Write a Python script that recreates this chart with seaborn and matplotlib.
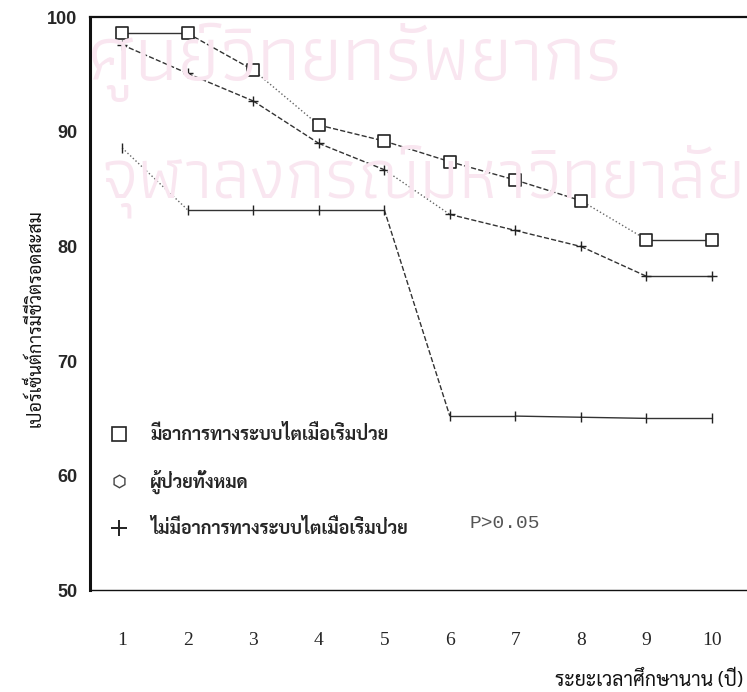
import matplotlib
matplotlib.use("Agg")
import matplotlib.pyplot as plt
import seaborn as sns
from matplotlib.lines import Line2D

# ==========================================
# Data
# ==========================================
years = [1, 2, 3, 4, 5, 6, 7, 8, 9, 10]

renal_yes = [98.6, 98.6, 95.4, 90.6, 89.2, 87.4, 85.8, 84.0, 80.6, 80.6]
all_patients = [97.6, 95.1, 92.7, 89.0, 86.7, 82.8, 81.4, 80.0, 77.4, 77.4]
renal_no = [88.6, 83.2, 83.2, 83.2, 83.2, 65.2, 65.2, 65.1, 65.0, 65.0]

series_labels = [
    "มีอาการทางระบบไตเมื่อเริ่มป่วย",
    "ผู้ป่วยทั้งหมด",
    "ไม่มีอาการทางระบบไตเมื่อเริ่มป่วย",
]

y_ticks = [50, 60, 70, 80, 90, 100]

x_label = "ระยะเวลาศึกษานาน (ปี)"
y_label = "เปอร์เซ็นต์การมีชีวิตรอดสะสม"
p_text = "P>0.05"
watermark_1 = "ศูนย์วิทยทรัพยากร"
watermark_2 = "จุฬาลงกรณ์มหาวิทยาลัย"

# line style of each segment, as drawn in the scan
seg_styles = [
    ["-", "--", ":", "--", "--", "--", "--", ":", "-"],
    ["--", "--", "--", "--", ":", "--", "--", "--", "-"],
    [":", "-", "-", "-", "--", "-", "-", "-", "-"],
]

sns.set_theme(style="white")
plt.rcParams["font.family"] = ["DejaVu Sans"]

fig = plt.figure(figsize=(7.47, 6.92), dpi=100)

# ==========================================
# Watermark behind everything
# ==========================================
wm_color = "#f9e6f0"
fig.text(0.118, 0.885, watermark_1, family="Athiti", fontsize=56,
         color=wm_color, ha="left", va="baseline", zorder=0)
fig.text(0.998, 0.715, watermark_2, family="Athiti", fontsize=52,
         color=wm_color, ha="right", va="baseline", zorder=0)

ax = fig.add_axes([0.1205, 0.147, 0.88, 0.828])
ax.patch.set_alpha(0)

all_series = [renal_yes, all_patients, renal_no]

for values, styles in zip(all_series, seg_styles):
    for i, ls in enumerate(styles):
        sns.lineplot(
            x=years[i:i + 2],
            y=values[i:i + 2],
            ax=ax,
            color="#333333" if ls != ":" else "#666666",
            linewidth=1.0,
        )
        ax.lines[-1].set_linestyle(ls)

sns.scatterplot(x=years, y=renal_yes, ax=ax, marker="s", s=80,
                facecolor="white", edgecolor="#222222", linewidth=1.2, zorder=5)
sns.scatterplot(x=years, y=all_patients, ax=ax, marker="+", s=50,
                color="#222222", linewidth=1.0, zorder=5)
sns.scatterplot(x=years, y=renal_no, ax=ax, marker="|", s=50,
                color="#222222", linewidth=1.0, zorder=5)

# ==========================================
# Axes styling
# ==========================================
ax.set_xlim(0.51, 10.54)
ax.set_ylim(50, 100)
ax.set_xticks(years)
ax.set_xticklabels([str(v) for v in years], family="Liberation Serif", fontsize=14)
ax.set_yticks(y_ticks)
ax.set_yticklabels([str(v) for v in y_ticks], fontweight="bold", fontsize=13,
                   family="Liberation Sans")
ax.tick_params(axis="x", direction="in", length=8, width=0.8, pad=30, color="#333333")
ax.tick_params(axis="y", direction="inout", length=10, width=0.8, pad=4, color="#333333")

for side in ["left", "bottom", "top"]:
    ax.spines[side].set_color("#111111")
ax.spines["left"].set_linewidth(2.2)
ax.spines["bottom"].set_linewidth(1.0)
ax.spines["top"].set_linewidth(1.6)
ax.spines["right"].set_visible(False)

ax.set_xlabel("")
ax.set_ylabel("")
fig.text(0.743, 0.003, x_label, family="Sarabun", fontsize=14, ha="left",
         va="bottom", color="#111111")
fig.text(0.047, 0.54, y_label, family="Sarabun", fontsize=13, rotation=90,
         ha="center", va="center", color="#111111")

# ==========================================
# Legend and p-value
# ==========================================
handles = [
    Line2D([], [], linestyle="none", marker="s", markersize=10,
           markerfacecolor="white", markeredgecolor="#222222", markeredgewidth=1.2),
    Line2D([], [], linestyle="none", marker="h", markersize=9,
           markerfacecolor="white", markeredgecolor="#444444", markeredgewidth=1.0),
    Line2D([], [], linestyle="none", marker="+", markersize=11,
           color="#222222", markeredgewidth=1.4),
]
ax.legend(handles, series_labels, loc="upper left", bbox_to_anchor=(0.006, 0.316),
          frameon=False, handlelength=1.0, handletextpad=1.2, labelspacing=1.4,
          prop={"family": "Sarabun", "weight": "bold", "size": 13})

ax.text(0.578, 0.108, p_text, transform=ax.transAxes, family="Liberation Mono",
        fontsize=14, color="#555555")

fig.savefig("out.png", dpi=100)
